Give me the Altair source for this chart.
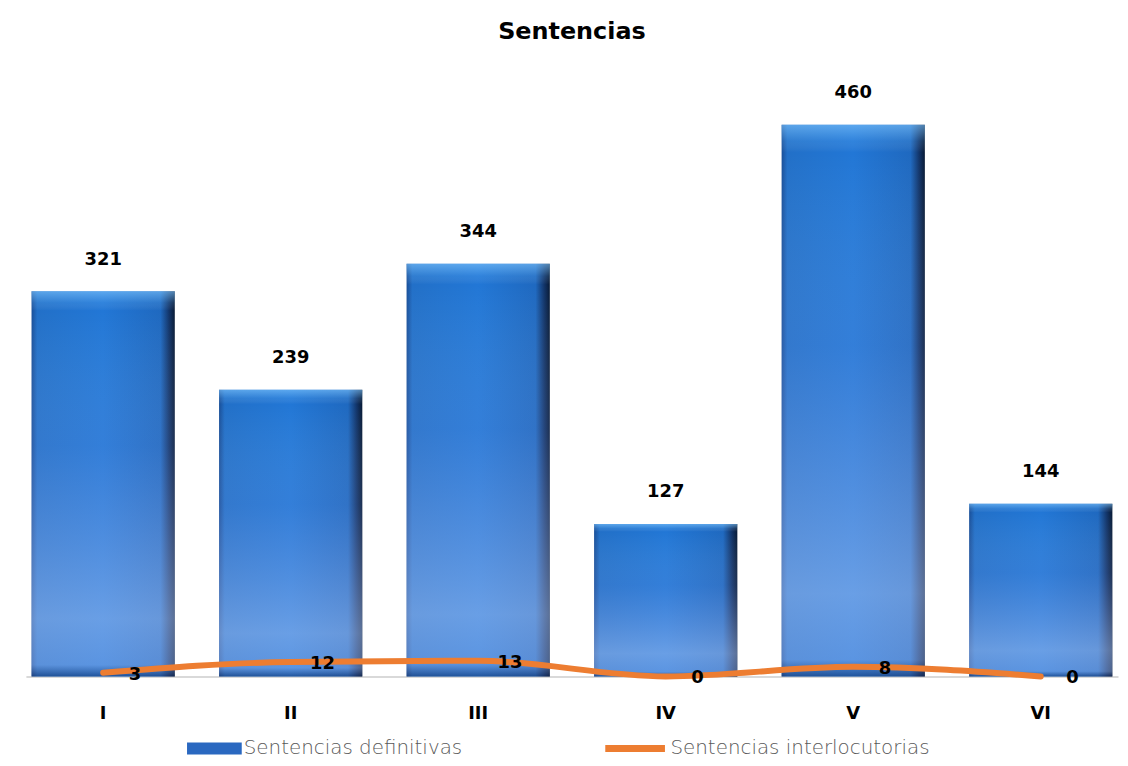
import altair as alt
import pandas as pd

categorias = ["I", "II", "III", "IV", "V", "VI"]
definitivas = [321, 239, 344, 127, 460, 144]
interlocutorias = [3, 12, 13, 0, 8, 0]
serie_def = "Sentencias definitivas"
serie_int = "Sentencias interlocutorias"

df = pd.DataFrame({
    "cat": categorias,
    "def": definitivas,
    "int": interlocutorias,
    "s_def": [serie_def] * len(categorias),
    "s_int": [serie_int] * len(categorias),
})

FONT = "DejaVu Sans"

x = alt.X("cat:N", sort=categorias,
          scale=alt.Scale(paddingInner=0.236, paddingOuter=0.03),
          axis=alt.Axis(title=None, labelAngle=0, labelFontSize=18, labelFontWeight="bold",
                        labelColor="#000000", labelFont=FONT, labelPadding=28, ticks=False,
                        domainColor="#d9d9d9", domainWidth=2))
yscale = alt.Scale(domain=[0, 500])
y_def = alt.Y("def:Q", scale=yscale, axis=None)

base = alt.Chart(df)

grad_h = alt.Gradient(
    gradient="linear", x1=0, x2=1, y1=0, y2=0,
    stops=[
        alt.GradientStop(color="#1a4f98", offset=0),
        alt.GradientStop(color="#2270c8", offset=0.04),
        alt.GradientStop(color="#2277d6", offset=0.5),
        alt.GradientStop(color="#1f69c0", offset=0.9),
        alt.GradientStop(color="#12356a", offset=0.96),
        alt.GradientStop(color="#081a35", offset=1),
    ],
)
grad_v = alt.Gradient(
    gradient="linear", x1=0, x2=0, y1=0, y2=1,
    stops=[
        alt.GradientStop(color="rgba(130,200,255,0.6)", offset=0),
        alt.GradientStop(color="rgba(130,200,255,0.15)", offset=0.03),
        alt.GradientStop(color="rgba(255,255,255,0.0)", offset=0.05),
        alt.GradientStop(color="rgba(150,170,235,0.15)", offset=0.4),
        alt.GradientStop(color="rgba(175,198,245,0.5)", offset=0.85),
        alt.GradientStop(color="rgba(160,185,240,0.45)", offset=0.97),
        alt.GradientStop(color="rgba(30,50,100,0.5)", offset=1),
    ],
)

bars = base.mark_bar(color=grad_h).encode(x=x, y=y_def)
bars_hl = base.mark_bar(color=grad_v).encode(x=x, y=y_def)

legend_def = base.transform_calculate(zero="0").mark_bar().encode(
    x=x,
    y=alt.Y("zero:Q", scale=yscale, axis=None),
    fill=alt.Fill("s_def:N", scale=alt.Scale(range=["#2a68c0"]),
                  legend=alt.Legend(title=None, orient="none", legendX=162, legendY=648,
                                    symbolType="M-1,-0.22H1V0.22H-1Z", symbolSize=3025,
                                    symbolStrokeWidth=0, labelFontSize=20, labelColor="#595959",
                                    labelFont=FONT, labelFontWeight=300, labelOffset=2,
                                    labelLimit=400, padding=0)),
)

bar_labels = base.mark_text(dy=-23, baseline="bottom", fontSize=18, fontWeight="bold",
                            font=FONT, color="#000000").encode(x=x, y=y_def, text="def:Q")

line = base.mark_line(strokeWidth=6, interpolate="monotone", strokeCap="round").encode(
    x=x,
    y=alt.Y("int:Q", scale=yscale, axis=None),
    stroke=alt.Stroke("s_int:N", scale=alt.Scale(range=["#ED7D31"]),
                      legend=alt.Legend(title=None, orient="none", legendX=579, legendY=642,
                                        symbolType="stroke", symbolSize=3600, symbolStrokeWidth=7,
                                        labelFontSize=20, labelColor="#595959", labelFont=FONT,
                                        labelFontWeight=300, labelOffset=2, labelLimit=400,
                                        padding=0)),
)

line_labels = base.mark_text(dx=32, dy=2, baseline="middle", fontSize=18, fontWeight="bold",
                             font=FONT, color="#000000").encode(
    x=x, y=alt.Y("int:Q", scale=yscale, axis=None), text="int:Q")

chart = alt.layer(bars, bars_hl, legend_def, bar_labels, line, line_labels).properties(
    width=1098,
    height=603,
    title=alt.TitleParams("Sentencias", fontSize=24, fontWeight="bold", font=FONT,
                          color="#000000", anchor="middle", offset=33),
    autosize=alt.AutoSizeParams(type="none"),
    padding={"left": 18, "top": 67, "right": 2, "bottom": 80},
).configure_view(stroke=None)

chart.save("out.html", embed_options={"renderer": "svg", "actions": False})
